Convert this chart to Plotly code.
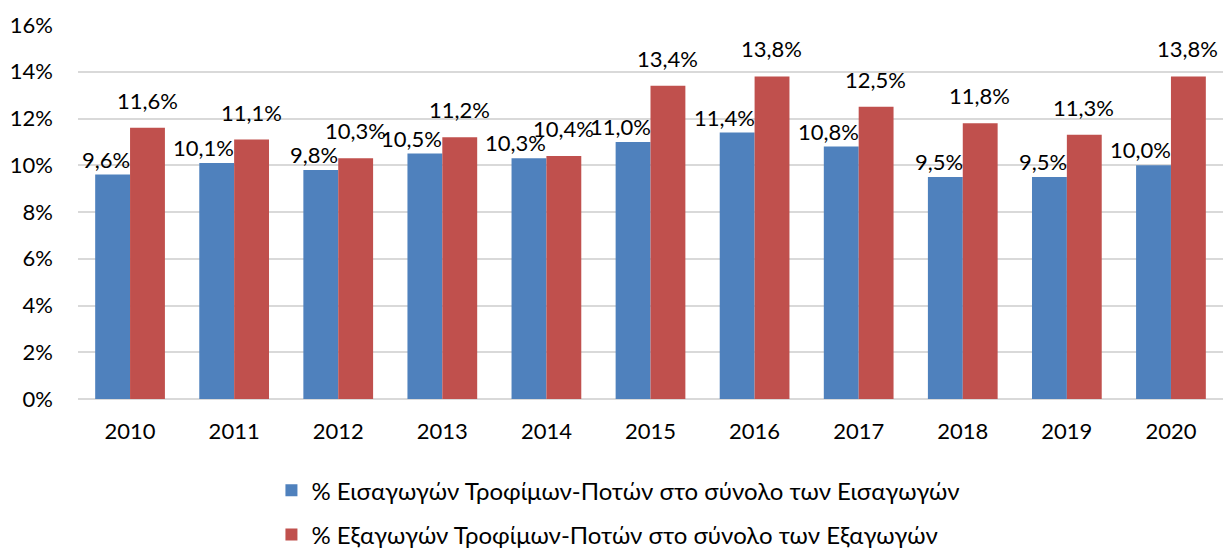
import plotly.graph_objects as go

years = ["2010", "2011", "2012", "2013", "2014", "2015", "2016", "2017", "2018", "2019", "2020"]
imports_pct = [9.6, 10.1, 9.8, 10.5, 10.3, 11.0, 11.4, 10.8, 9.5, 9.5, 10.0]
exports_pct = [11.6, 11.1, 10.3, 11.2, 10.4, 13.4, 13.8, 12.5, 11.8, 11.3, 13.8]
name_imp = "% Εισαγωγών Τροφίμων-Ποτών στο σύνολο των Εισαγωγών"
name_exp = "% Εξαγωγών Τροφίμων-Ποτών στο σύνολο των Εξαγωγών"

FONT = "Lato, 'Open Sans', sans-serif"
FS = 22

def fmt(v):
    return f"{v:.1f}%".replace(".", ",")

fig = go.Figure()
fig.add_trace(go.Bar(
    x=years, y=[v / 100 for v in imports_pct], name=name_imp,
    marker=dict(color="#4F81BD", line=dict(width=0)), legendgroup="a",
))
fig.add_trace(go.Bar(
    x=years, y=[v / 100 for v in exports_pct], name=name_exp,
    marker=dict(color="#C0504D", line=dict(width=0)), legendgroup="b",
))

# data labels (x given as category index)
annos = []
for i, v in enumerate(imports_pct):
    annos.append(dict(x=i, y=v / 100, xref="x", yref="y", text=fmt(v), showarrow=False,
                      xanchor="right", yanchor="bottom", xshift=2, yshift=0,
                      font=dict(size=FS, family=FONT, color="#000000")))
for i, v in enumerate(exports_pct):
    annos.append(dict(x=i, y=v / 100, xref="x", yref="y", text=fmt(v), showarrow=False,
                      xanchor="center", yanchor="bottom", xshift=17, yshift=12,
                      font=dict(size=FS, family=FONT, color="#000000")))

fig.update_layout(
    width=1223, height=550,
    margin=dict(l=78, r=0, t=25, b=151, autoexpand=False),
    paper_bgcolor="white", plot_bgcolor="white",
    separators=",.",
    barmode="group", bargap=0.33, bargroupgap=0,
    font=dict(family=FONT, size=FS, color="#000000"),
    showlegend=True,
    annotations=annos,
    legend=dict(orientation="v", x=0.472, xanchor="center", y=-0.185, yanchor="top",
                font=dict(size=24, family=FONT, color="#000000"),
                tracegroupgap=10, traceorder="grouped"),
    xaxis=dict(type="category", range=[-0.5, len(years) - 0.5], showgrid=False, showline=False,
               ticks="", tickfont=dict(size=FS), ticklabelstandoff=17),
    yaxis=dict(range=[0, 0.16], dtick=0.02, tickformat=".0%", showgrid=True,
               gridcolor="#D9D9D9", gridwidth=2, zeroline=True, zerolinecolor="#D9D9D9",
               zerolinewidth=2, showline=False, ticks="", tickfont=dict(size=FS),
               ticklabelstandoff=24),
)

fig.write_html("out.html", post_script="document.body.style.margin='0';",
               config={"displayModeBar": False})
